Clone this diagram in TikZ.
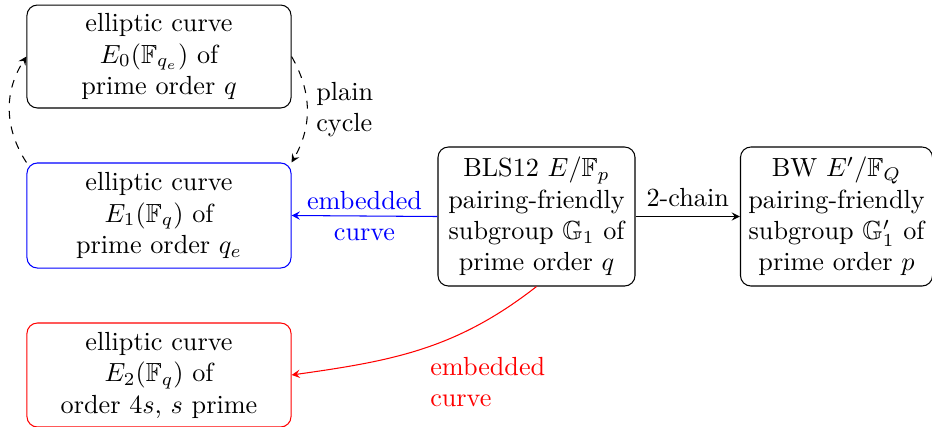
\documentclass[tikz,border=0pt]{standalone}
\usepackage{amssymb}
\usetikzlibrary{arrows.meta}
\begin{document}
\begin{tikzpicture}[x=0.3817pt,y=0.3817pt,>=stealth,
  box/.style={draw,rounded corners=4pt,align=center,inner sep=3pt},
  lbl/.style={align=center,inner sep=3.33pt}]
\useasboundingbox (0,0) rectangle (932,426);
\node[box,minimum width=100.8pt,minimum height=39.3pt] (e0) at (159,369.5)
  {elliptic curve\\$E_0(\mathbb{F}_{q_e})$ of\\prime order $q$};
\node[box,draw=blue,minimum width=100.8pt,minimum height=40.1pt] (e1) at (159,210.5)
  {elliptic curve\\$E_1(\mathbb{F}_{q})$ of\\prime order $q_e$};
\node[box,draw=red,minimum width=100.8pt,minimum height=39.7pt] (e2) at (159,51)
  {elliptic curve\\$E_2(\mathbb{F}_{q})$ of\\order $4s$, $s$ prime};
\node[box,minimum width=75.2pt,minimum height=53.06pt] (bls) at (536.5,209.5)
  {BLS12 $E/\mathbb{F}_p$\\pairing-friendly\\subgroup $\mathbb{G}_1$ of\\prime order $q$};
\node[box,minimum width=72.9pt,minimum height=53.06pt] (bw) at (836.5,209.5)
  {BW $E'/\mathbb{F}_Q$\\pairing-friendly\\subgroup $\mathbb{G}_1'$ of\\prime order $p$};
\draw[->,blue] (bls.west) -- node[lbl,text=blue] (lblblue) {embedded\\curve} (e1.east);
\draw[->] (bls.east) -- node[lbl,above] (lblchain) {2-chain} (bw.west);
\draw[->,red] (bls.south) to[out=218,in=8] (e2.east);
\node[lbl,align=left,anchor=west,text=red] (lblred) at (421,44) {embedded\\curve};
\draw[->,dashed] (e0.east) to[bend left] node[lbl,align=left,right] (lblcycle) {plain\\cycle} (e1.north east);
\draw[->,dashed] (e1.north west) to[bend left=33] (e0.west);
\end{tikzpicture}
\end{document}
